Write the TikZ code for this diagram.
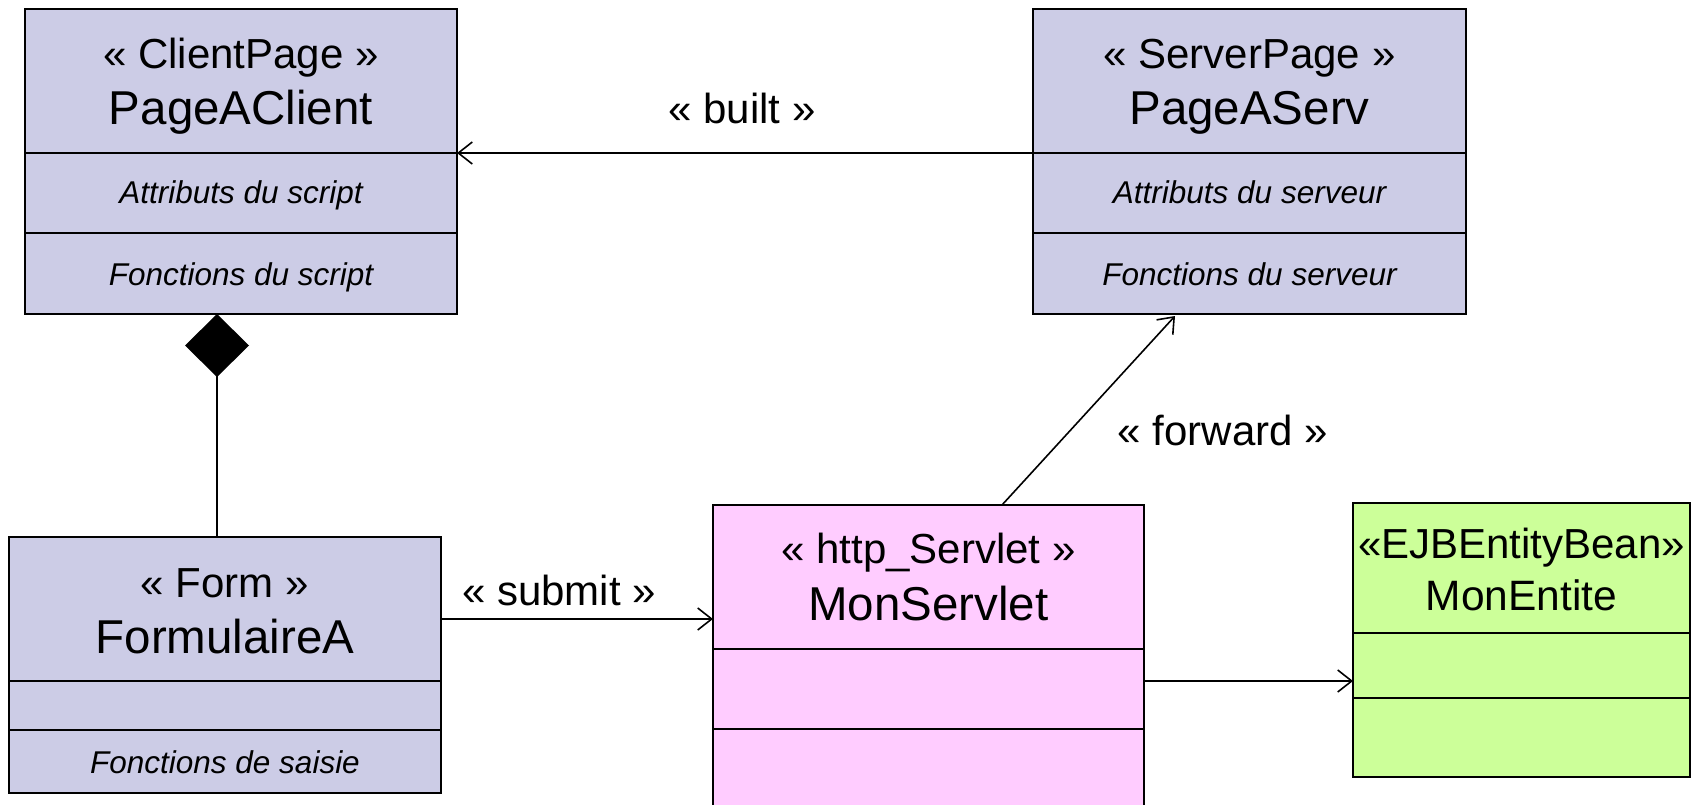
\documentclass[tikz,border=0pt]{standalone}
\usepackage{fontspec}
\setmainfont{Liberation Sans}
\usetikzlibrary{arrows.meta}
\definecolor{lav}{RGB}{204,204,230}
\definecolor{pinkc}{RGB}{255,204,255}
\definecolor{greenc}{RGB}{204,255,153}
\tikzset{
  umlbox/.style={draw=black, line width=2pt, rectangle, inner sep=0pt, outer sep=0pt},
  divline/.style={line width=2pt},
  stereo/.style={anchor=base, inner sep=0pt, font=\fontsize{42}{46}\selectfont},
  cname/.style={anchor=base, inner sep=0pt, font=\fontsize{47.5}{50}\selectfont},
  ename/.style={anchor=base, inner sep=0pt, font=\fontsize{42.5}{46}\selectfont},
  member/.style={anchor=base, inner sep=0pt, font=\fontsize{31.5}{34}\selectfont\itshape},
  lbl/.style={anchor=base, inner sep=0pt, font=\fontsize{42}{46}\selectfont},
  arr/.style={line width=1.6pt, -{Straight Barb[length=14pt,width=22pt,line width=1.6pt]}},
  comp/.style={line width=1.6pt, -{Diamond[length=63pt,width=64pt]}}
}
\begin{document}
\begin{tikzpicture}[x=1pt,y=-1pt]
\useasboundingbox (0,0) rectangle (1696,805);
\clip (0,0) rectangle (1696,805);
% boxes
\node[umlbox, fill=lav, minimum width=432pt, minimum height=305pt] (A) at (241,161.5) {};
\node[umlbox, fill=lav, minimum width=433pt, minimum height=305pt] (S) at (1249.5,161.5) {};
\node[umlbox, fill=lav, minimum width=432pt, minimum height=256pt] (F) at (225,665) {};
\node[umlbox, fill=pinkc, minimum width=431pt, minimum height=320pt] (M) at (928.5,665) {};
\node[umlbox, fill=greenc, minimum width=337pt, minimum height=274pt] (E) at (1521.5,640) {};
% divider coordinates
\coordinate (Ad1) at (0,153); \coordinate (Ad2) at (0,233);
\coordinate (Fd1) at (0,681); \coordinate (Fd2) at (0,730);
\coordinate (Md1) at (0,649); \coordinate (Md2) at (0,729);
\coordinate (Ed1) at (0,633); \coordinate (Ed2) at (0,698);
\draw[divline] (A.west |- Ad1) -- (A.east |- Ad1);
\draw[divline] (A.west |- Ad2) -- (A.east |- Ad2);
\draw[divline] (S.west |- Ad1) -- (S.east |- Ad1);
\draw[divline] (S.west |- Ad2) -- (S.east |- Ad2);
\draw[divline] (F.west |- Fd1) -- (F.east |- Fd1);
\draw[divline] (F.west |- Fd2) -- (F.east |- Fd2);
\draw[divline] (M.west |- Md1) -- (M.east |- Md1);
\draw[divline] (M.west |- Md2) -- (M.east |- Md2);
\draw[divline] (E.west |- Ed1) -- (E.east |- Ed1);
\draw[divline] (E.west |- Ed2) -- (E.east |- Ed2);
% texts
\node[stereo] (At1) at (241,69) {« ClientPage »};
\node[cname] (At2) at (241,125) {PageAClient};
\node[member] (At3) at (241,204) {Attributs du script};
\node[member] (At4) at (241,285) {Fonctions du script};
\node[stereo] (St1) at (1249.5,69) {« ServerPage »};
\node[cname] (St2) at (1249.5,125) {PageAServ};
\node[member] (St3) at (1249.5,204) {Attributs du serveur};
\node[member] (St4) at (1249.5,285) {Fonctions du serveur};
\node[stereo] (Ft1) at (225,597) {« Form »};
\node[cname] (Ft2) at (225,653) {FormulaireA};
\node[member] (Ft4) at (225,773) {Fonctions de saisie};
\node[stereo] (Mt1) at (928.5,563) {« http\_Servlet »};
\node[cname] (Mt2) at (928.5,620) {MonServlet};
\node[stereo] (Et1) at (1521.5,558) {«EJBEntityBean»};
\node[ename] (Et2) at (1521.5,610) {MonEntite};
% connectors
\draw[arr] (S.west |- Ad1) -- (A.east |- Ad1);
\node[lbl] (Lb) at (742,124) {« built »};
\coordinate (Fy) at (0,619);
\draw[arr] (F.east |- Fy) -- (M.west |- Fy);
\node[lbl] (Ls) at (559,605) {« submit »};
\coordinate (My) at (0,681);
\draw[arr] (M.east |- My) -- (E.west |- My);
\draw[arr] ([xshift=73.5pt]M.north) -- ([xshift=-74.5pt,yshift=-2pt]S.south);
\node[lbl] (Lf) at (1223,445) {« forward »};
\draw[comp] ([xshift=-8pt]F.north) -- ([xshift=-24pt]A.south);
\end{tikzpicture}
\end{document}
